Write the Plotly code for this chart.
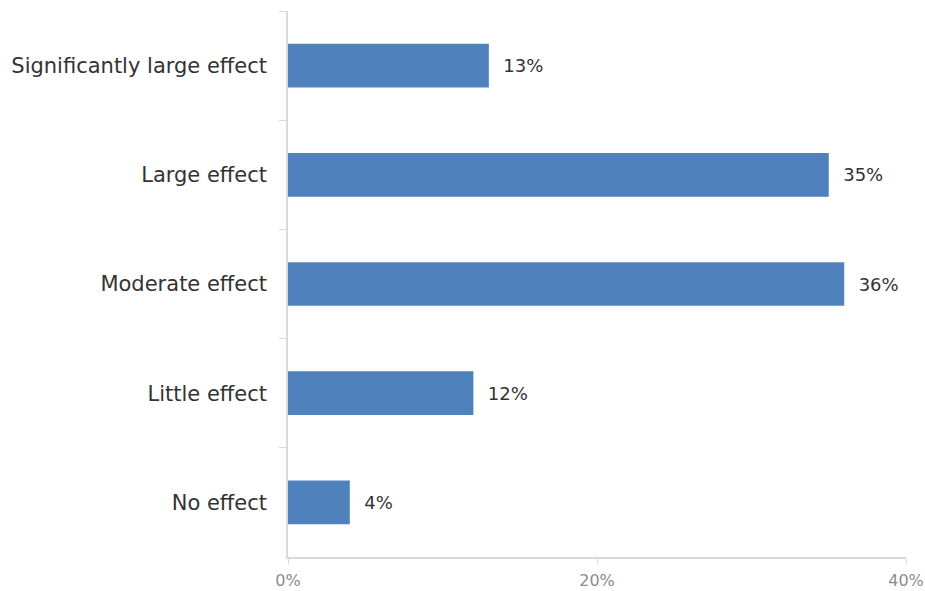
import plotly.graph_objects as go

categories = ["Significantly large effect", "Large effect", "Moderate effect", "Little effect", "No effect"]
values = [13, 35, 36, 12, 4]
labels = ["13%", "35%", "36%", "12%", "4%"]
x_ticks = [0, 20, 40]
x_tick_labels = ["0%", "20%", "40%"]

FONT = "'DejaVu Sans', sans-serif"

fig = go.Figure(go.Bar(
    x=values, y=categories, orientation="h",
    marker=dict(color="#4f81bd", line=dict(width=0)),
    text=["  " + t for t in labels], textposition="outside",
    textfont=dict(size=18, color="#333333", family=FONT),
    cliponaxis=False, width=0.4,
))

fig.update_layout(
    width=925, height=591,
    margin=dict(l=288, r=19, t=11, b=34, autoexpand=False),
    plot_bgcolor="white", paper_bgcolor="white",
    showlegend=False,
    font=dict(family=FONT),
    xaxis=dict(
        range=[0, 40], tickvals=x_ticks, ticktext=x_tick_labels,
        showgrid=False, zeroline=False, automargin=False,
        showline=True, linecolor="#d9d9d9", linewidth=1.5,
        ticks="outside", ticklen=5, tickcolor="#d9d9d9",
        tickfont=dict(size=16, color="#8c8c8c", family=FONT),
        ticklabelstandoff=3,
    ),
    yaxis=dict(
        categoryorder="array", categoryarray=categories, autorange="reversed",
        showgrid=False, zeroline=False, automargin=False,
        showline=True, linecolor="#d9d9d9", linewidth=1.5,
        ticks="outside", ticklen=7, tickcolor="#d9d9d9", tickson="boundaries",
        tickfont=dict(size=21, color="#333333", family=FONT),
        ticklabelstandoff=15,
    ),
)

fig.write_html(
    "out.html",
    config={"displayModeBar": False},
    post_script="document.body.style.margin='0';document.body.style.overflow='hidden';",
)
